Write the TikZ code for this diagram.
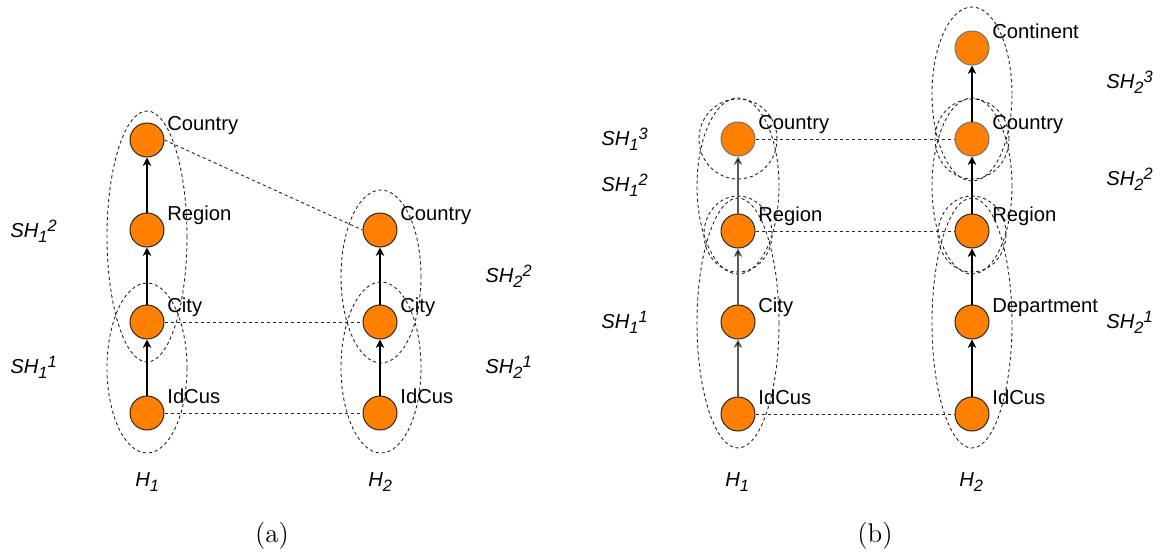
\documentclass[tikz,border=0pt]{standalone}
\usepackage{fontspec}
\newfontfamily\arialf{Liberation Sans}
\usetikzlibrary{arrows.meta}
\definecolor{nodeorange}{RGB}{255,128,0}
\definecolor{nodeborder}{RGB}{40,40,40}
\newcommand{\mysb}[1]{\raisebox{-2.5pt}{\fontsize{8.2}{9}\selectfont #1}}
\newcommand{\mysp}[1]{\raisebox{2.8pt}{\fontsize{8.2}{9}\selectfont #1}}
\tikzset{
  lvl/.style={circle, draw=nodeborder, fill=nodeorange, line width=0.5pt, minimum size=17pt, inner sep=0pt},
  lvlgray/.style={lvl, draw=gray!90!black},
  lbl/.style={anchor=base west, inner sep=0pt, font=\arialf\fontsize{10.1}{12}\selectfont},
  shlbl/.style={anchor=base west, inner sep=0pt, font=\arialf\itshape\fontsize{10.1}{12}\selectfont},
  captext/.style={anchor=base, inner sep=0pt, font=\fontsize{13.5}{16}\selectfont},
  arr/.style={-{Stealth[length=4.2pt,width=4.2pt,inset=1.2pt]}, line width=0.55pt, black},
  arrgray/.style={arr, draw=gray!70!black, -{Stealth[length=4.2pt,width=4.2pt,inset=1.2pt,fill=black]}},
  dline/.style={line width=0.45pt, dash pattern=on 1.6pt off 1.4pt, black!85},
  grp/.style={line width=0.45pt, dash pattern=on 1.6pt off 1.4pt, black!85}
}
\begin{document}
\begin{tikzpicture}[x=0.5pt,y=-0.5pt]
\useasboundingbox (0,0) rectangle (1163,553);

% ---------------- (a) ----------------
\draw[grp] (147,236.5) ellipse [x radius=20pt, y radius=62.75pt];
\draw[grp] (147,368) ellipse [x radius=20pt, y radius=42.5pt];
\draw[grp] (381,276.5) ellipse [x radius=20pt, y radius=43.25pt];
\draw[grp] (381,367.5) ellipse [x radius=20pt, y radius=42.75pt];

\node[lvl] (aC1) at (147,140) {};
\node[lvl] (aR1) at (147,230) {};
\node[lvl] (aCi1) at (147,322) {};
\node[lvl] (aI1) at (147,413) {};
\node[lvl] (aC2) at (380,230) {};
\node[lvl] (aCi2) at (380,322) {};
\node[lvl] (aI2) at (380,413) {};

\draw[arr] (aI1) -- (aCi1);
\draw[arr] (aCi1) -- (aR1);
\draw[arr] (aR1) -- (aC1);
\draw[arr] (aI2) -- (aCi2);
\draw[arr] (aCi2) -- (aC2);

\draw[dline] (aC1.east) -- (aC2.west);
\draw[dline] (aCi1.east) -- (aCi2.west);
\draw[dline] (aI1.east) -- (aI2.west);

\node[lbl] (aC1l) at (167,130) {Country};
\node[lbl] (aR1l) at (167,220) {Region};
\node[lbl] (aCi1l) at (167,312) {City};
\node[lbl] (aI1l) at (167,403) {IdCus};
\node[lbl] (aC2l) at (400,220) {Country};
\node[lbl] (aCi2l) at (400,312) {City};
\node[lbl] (aI2l) at (400,403) {IdCus};

\node[shlbl] (aSH12) at (10,237) {SH\mysb{1}\mysp{2}};
\node[shlbl] (aSH11) at (10,373) {SH\mysb{1}\mysp{1}};
\node[shlbl] (aSH22) at (485,282) {SH\mysb{2}\mysp{2}};
\node[shlbl] (aSH21) at (485,373) {SH\mysb{2}\mysp{1}};

\node[shlbl] (aH1) at (135,486) {H\mysb{1}};
\node[shlbl] (aH2) at (368,486) {H\mysb{2}};
\node[captext] (capa) at (272,542) {(a)};

% ---------------- (b) ----------------
\draw[grp] (738,139) ellipse [x radius=19.5pt, y radius=20pt];
\draw[grp] (738,186) ellipse [x radius=20.5pt, y radius=44pt];
\draw[grp] (738,234) ellipse [x radius=17pt, y radius=19pt];
\draw[grp] (738,323) ellipse [x radius=20.5pt, y radius=62.5pt];

\draw[grp] (972,94) ellipse [x radius=20pt, y radius=43.5pt];
\draw[grp] (972,139) ellipse [x radius=18.5pt, y radius=20pt];
\draw[grp] (972,186) ellipse [x radius=20pt, y radius=44pt];
\draw[grp] (972,234) ellipse [x radius=17pt, y radius=19pt];
\draw[grp] (972,323) ellipse [x radius=20pt, y radius=62.5pt];

\node[lvlgray] (bC1) at (738,139) {};
\node[lvl] (bR1) at (738,231) {};
\node[lvl] (bCi1) at (738,322) {};
\node[lvl] (bI1) at (738,414) {};
\node[lvlgray] (bCo2) at (972,48) {};
\node[lvlgray] (bC2) at (972,139) {};
\node[lvl] (bR2) at (972,231) {};
\node[lvl] (bD2) at (972,322) {};
\node[lvl] (bI2) at (972,414) {};

\draw[arrgray] (bI1) -- (bCi1);
\draw[arrgray] (bCi1) -- (bR1);
\draw[arrgray] (bR1) -- (bC1);
\draw[arr] (bI2) -- (bD2);
\draw[arr] (bD2) -- (bR2);
\draw[arr] (bR2) -- (bC2);
\draw[arr] (bC2) -- (bCo2);

\draw[dline] (bC1.east) -- (bC2.west);
\draw[dline] (bR1.east) -- (bR2.west);
\draw[dline] (bI1.east) -- (bI2.west);

\node[lbl] (bC1l) at (758,129) {Country};
\node[lbl] (bR1l) at (758,221) {Region};
\node[lbl] (bCi1l) at (758,312) {City};
\node[lbl] (bI1l) at (758,404) {IdCus};
\node[lbl] (bCo2l) at (992,38) {Continent};
\node[lbl] (bC2l) at (992,129) {Country};
\node[lbl] (bR2l) at (992,221) {Region};
\node[lbl] (bD2l) at (992,312) {Department};
\node[lbl] (bI2l) at (992,404) {IdCus};

\node[shlbl] (bSH13) at (601,145) {SH\mysb{1}\mysp{3}};
\node[shlbl] (bSH12) at (601,191) {SH\mysb{1}\mysp{2}};
\node[shlbl] (bSH11) at (601,328) {SH\mysb{1}\mysp{1}};
\node[shlbl] (bSH23) at (1106,88) {SH\mysb{2}\mysp{3}};
\node[shlbl] (bSH22) at (1106,185) {SH\mysb{2}\mysp{2}};
\node[shlbl] (bSH21) at (1106,328) {SH\mysb{2}\mysp{1}};

\node[shlbl] (bH1) at (725,486) {H\mysb{1}};
\node[shlbl] (bH2) at (959,486) {H\mysb{2}};
\node[captext] (capb) at (875,542) {(b)};
\end{tikzpicture}
\end{document}
